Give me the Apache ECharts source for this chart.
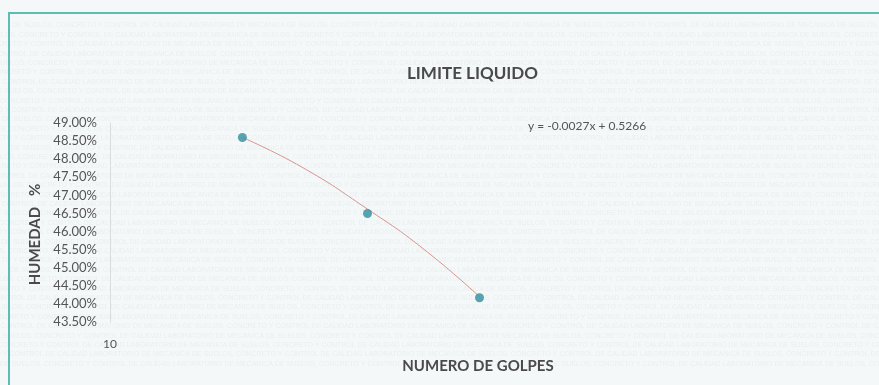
<!DOCTYPE html>
<html>
<head>
<meta charset="utf-8">
<script src="https://cdn.jsdelivr.net/npm/echarts@6/dist/echarts.min.js"></script>
<style>
  html, body { margin: 0; padding: 0; background: #f5f8f8; }
  #chart { width: 879px; height: 385px; }
</style>
</head>
<body>
<div id="chart"></div>
<script>
// golpes vs humedad (%)
const golpes = [15, 22, 31];
const humedad = [48.6, 46.5, 44.17];

// trend line
const trendX = [15, 18, 22, 26, 31];
const trendY = [48.6, 47.78, 46.62, 45.55, 44.2];

const yMin = 43.5;
const yMax = 49.0;
const yStep = 0.5;

const chart = echarts.init(document.getElementById('chart'));

// faint watermark rows behind the chart
const wmText = 'DE SUELOS, CONCRETO Y CONTROL DE CALIDAD LABORATORIO DE MECANICA ';
const watermark = [];
for (let i = 0; i < 37; i++) {
  watermark.push({
    type: 'text',
    left: 12 - ((i * 37) % 120),
    top: 22 + i * 9.4,
    silent: true,
    z: -10,
    style: {
      text: wmText.repeat(6),
      fill: 'rgba(150,170,170,0.12)',
      font: '7px "Liberation Sans Narrow", "Liberation Sans", sans-serif'
    }
  });
}

chart.setOption({
  backgroundColor: '#f5f8f8',
  animation: false,
  textStyle: { fontFamily: 'Lato, "Open Sans", sans-serif' },
  title: {
    text: 'LIMITE LIQUIDO',
    left: 402,
    top: 60,
    textStyle: { fontSize: 17, fontWeight: 'bold', color: '#4a4a4a', fontFamily: 'Lato' }
  },
  graphic: watermark.concat([
    {
      type: 'rect',
      shape: { x: 9, y: 13, width: 880, height: 380 },
      silent: true,
      style: { fill: 'none', stroke: '#5dbdb2', lineWidth: 2 }
    },
    {
      type: 'text',
      left: 528,
      top: 120,
      style: { text: 'y = -0.0027x + 0.5266', fill: '#555', font: '12px Lato' }
    }
  ]),
  grid: { left: 110, right: 17, top: 123, bottom: 63 },
  xAxis: {
    type: 'log',
    logBase: 10,
    min: 10,
    max: 100,
    name: 'NUMERO DE GOLPES',
    nameLocation: 'middle',
    nameGap: 37,
    nameTextStyle: { fontSize: 15, fontWeight: 'bold', color: '#4a4a4a', padding: [0, 16, 0, 0] },
    axisLine: { show: false },
    axisTick: { show: false },
    splitLine: { show: false },
    axisLabel: { color: '#555', fontSize: 12, margin: 16, showMaxLabel: false }
  },
  yAxis: {
    type: 'value',
    min: yMin,
    max: yMax,
    interval: yStep,
    name: 'HUMEDAD   %',
    nameLocation: 'middle',
    nameGap: 66,
    nameTextStyle: { fontSize: 15, fontWeight: 'bold', color: '#4a4a4a', padding: [0, 24, 0, 0] },
    axisLine: { show: true, lineStyle: { color: '#d8dede' } },
    axisTick: { show: false },
    splitLine: { show: false },
    axisLabel: {
      color: '#555',
      fontSize: 13,
      margin: 13,
      formatter: v => v.toFixed(2) + '%'
    }
  },
  series: [
    {
      name: 'tendencia',
      type: 'line',
      smooth: true,
      showSymbol: false,
      data: trendX.map((x, i) => [x, trendY[i]]),
      lineStyle: { color: '#d79494', width: 1 },
      z: 2
    },
    {
      name: 'humedad',
      type: 'scatter',
      data: golpes.map((g, i) => [g, humedad[i]]),
      symbolSize: 9,
      itemStyle: { color: '#2f8f9d' },
      z: 3
    }
  ]
});
</script>
</body>
</html>
